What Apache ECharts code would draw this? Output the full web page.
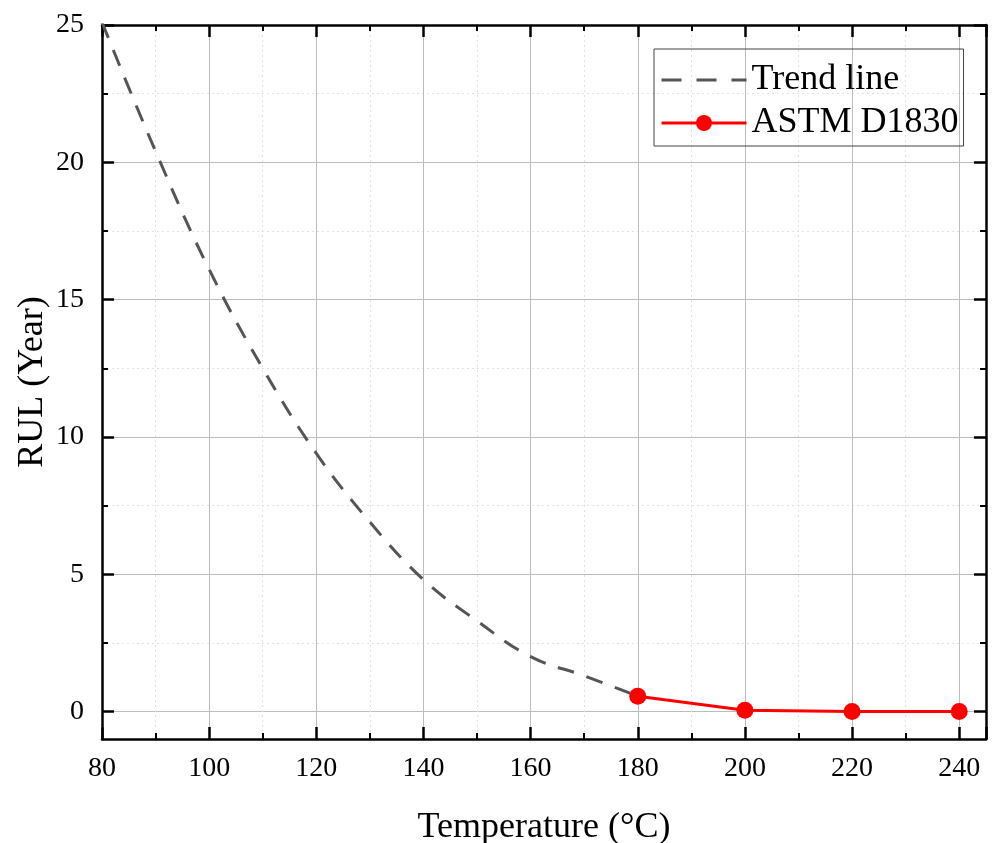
<!DOCTYPE html>
<html>
<head>
<meta charset="UTF-8">
<title>RUL vs Temperature</title>
<script src="https://fastly.jsdelivr.net/npm/echarts@6/dist/echarts.min.js"></script>
<style>
  html, body { margin: 0; padding: 0; background: #fff; }
  #main { width: 993px; height: 843px; }
</style>
</head>
<body>
<div id="main"></div>
<script>
// trend line
var trendTemp = [80, 90, 100, 110, 120, 130, 140, 150, 160, 170, 180];
var trendRul  = [25.1, 20.4, 16.1, 12.5, 9.4, 6.9, 4.8, 3.3, 2.0, 1.3, 0.56];

// ASTM D1830 measurements
var astmTemp = [180, 200, 220, 240];
var astmRul  = [0.56, 0.05, 0.0, 0.0];

// y ticks (axis runs from -1 so ticks are given explicitly)
var yMajor = [0, 5, 10, 15, 20, 25];
var yMinor = [2.5, 7.5, 12.5, 17.5, 22.5];

var font = 'Liberation Serif, Times New Roman, serif';

function zip(a, b) {
  return a.map(function (v, i) { return [v, b[i]]; });
}

var chart = echarts.init(document.getElementById('main'), null, {renderer: 'canvas'});

var frameLine = { show: true, onZero: false, lineStyle: { color: '#000', width: 2.5 } };
var majorTick = { show: true, inside: true, length: 12, lineStyle: { color: '#000', width: 2.5 } };
var minorTickStyle = { color: '#000', width: 2 };
var majorGrid = { show: true, lineStyle: { color: '#bcbcbc', width: 1 } };
var minorGrid = { show: true, lineStyle: { color: '#e2e2e2', width: 1, type: [2, 3] } };

function yAx(pos, ticks, len, labels, split, line) {
  return {
    type: 'value', min: -1, max: 25, position: pos,
    axisLine: line ? frameLine : { show: false },
    axisTick: { show: true, inside: true, length: len, customValues: ticks,
      lineStyle: len > 8 ? majorTick.lineStyle : minorTickStyle },
    axisLabel: labels ? { show: true, customValues: ticks, fontFamily: font, fontSize: 28,
      color: '#000', margin: 18 } : { show: false },
    splitLine: split || { show: false }
  };
}

var yAxes = [
  yAx('left', yMajor, 12, true, majorGrid, true),
  yAx('left', yMinor, 6, false, minorGrid, false),
  yAx('right', yMajor, 12, false, null, true),
  yAx('right', yMinor, 6, false, null, false)
];
yAxes[0].name = 'RUL (Year)';
yAxes[0].nameLocation = 'middle';
yAxes[0].nameGap = 51;
yAxes[0].nameMoveOverlap = false;
yAxes[0].nameTextStyle = { fontFamily: font, fontSize: 36, color: '#000' };

var option = {
  backgroundColor: '#fff',
  animation: false,
  textStyle: { fontFamily: font },
  grid: { left: 102, top: 25, right: 7, bottom: 104, containLabel: false,
    outerBoundsMode: 'none' },
  legend: {
    left: 654, top: 49,
    orient: 'vertical',
    borderColor: '#444', borderWidth: 1, borderRadius: 0,
    padding: [13, 5, 5, 6],
    itemGap: 7,
    itemWidth: 85, itemHeight: 20,
    textStyle: { fontFamily: font, fontSize: 36, lineHeight: 36, color: '#000' },
    data: [
      { name: 'Trend line', itemStyle: { opacity: 0 },
        lineStyle: { color: '#555', width: 3, type: [20, 15] } },
      { name: 'ASTM D1830', lineStyle: { color: '#ff0000', width: 3 } }
    ]
  },
  xAxis: [{
    type: 'value', min: 80, max: 245, interval: 20,
    name: 'Temperature (°C)', nameLocation: 'middle', nameGap: 71,
    nameMoveOverlap: false,
    nameTextStyle: { fontFamily: font, fontSize: 36, color: '#000' },
    axisLine: frameLine,
    axisTick: majorTick,
    minorTick: { show: true, splitNumber: 2, length: 6, lineStyle: minorTickStyle },
    axisLabel: { fontFamily: font, fontSize: 28, color: '#000', margin: 16,
      showMaxLabel: false },
    splitLine: majorGrid,
    minorSplitLine: minorGrid
  }, {
    type: 'value', min: 80, max: 245, interval: 20, position: 'top',
    axisLine: frameLine,
    axisTick: majorTick,
    minorTick: { show: true, splitNumber: 2, length: 6, lineStyle: minorTickStyle },
    axisLabel: { show: false },
    splitLine: { show: false }
  }],
  yAxis: yAxes,
  series: [{
    name: 'Trend line',
    type: 'line',
    smooth: 0.4,
    symbol: 'none',
    clip: true,
    lineStyle: { color: '#555', width: 3, type: [17, 13] },
    itemStyle: { color: '#555' },
    data: zip(trendTemp, trendRul)
  }, {
    name: 'ASTM D1830',
    type: 'line',
    symbol: 'circle',
    symbolSize: 17,
    lineStyle: { color: '#ff0000', width: 3 },
    itemStyle: { color: '#ff0000' },
    z: 3,
    data: zip(astmTemp, astmRul)
  }]
};

chart.setOption(option);
</script>
</body>
</html>
